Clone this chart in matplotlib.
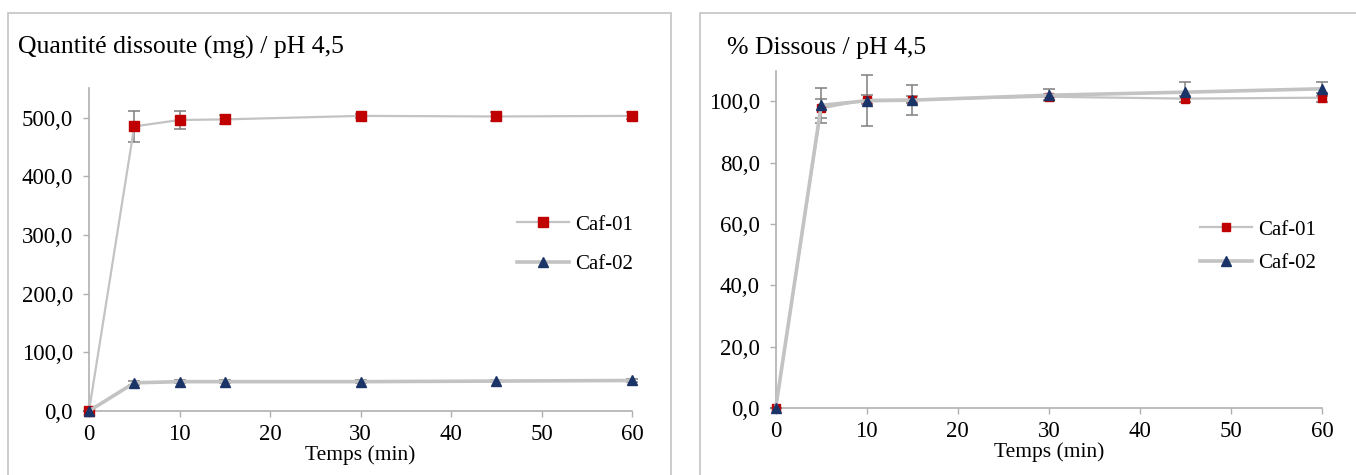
import matplotlib
matplotlib.use("Agg")
import matplotlib.pyplot as plt
from matplotlib.ticker import FuncFormatter, MultipleLocator
from matplotlib.patches import Rectangle

plt.rcParams['font.family'] = ['Liberation Serif', 'DejaVu Serif']

# ---- data ----
time_min = [0, 5, 10, 15, 30, 45, 60]

qty_caf01 = [0, 485, 496, 497, 503, 502, 503]
qty_caf01_err = [0, 26, 15, 7, 4, 8, 6]
qty_caf02 = [0, 48, 50, 50, 50, 51, 52]
qty_caf02_err = [0, 3, 3, 2, 2, 2, 2]

pct_caf01 = [0, 97.7, 100.5, 100.6, 101.5, 100.9, 101.2]
pct_caf01_err = [0, 3.2, 1.5, 1.2, 1.0, 1.0, 1.4]
pct_caf02 = [0, 98.7, 100.2, 100.4, 102.0, 103.0, 104.1]
pct_caf02_err = [0, 5.7, 8.3, 5.0, 2.0, 3.2, 2.3]

series_names = ["Caf-01", "Caf-02"]
x_ticks = [0, 10, 20, 30, 40, 50, 60]

title_left = "Quantité dissoute (mg) / pH 4,5"
title_right = "% Dissous / pH 4,5"
xlabel = "Temps (min)"

RED = "#C00000"
NAVY = "#1B3468"
LINE = "#C3C3C3"
ERR = "#7F7F7F"
SPINE = "#B0B0B0"

W, H = 1356, 475
fig = plt.figure(figsize=(W / 100, H / 100), dpi=100)

# panel frames
fig.patches.append(Rectangle((8 / W, -0.1), (671 - 8) / W, 1.1 - 12.7 / H,
                             transform=fig.transFigure, fill=False,
                             edgecolor="#C8C8C8", lw=1.3))
fig.patches.append(Rectangle((700 / W, -0.1), 0.5, 1.1 - 13.3 / H,
                             transform=fig.transFigure, fill=False,
                             edgecolor="#C8C8C8", lw=1.3))


def fmt_comma(v, pos):
    return f"{v:.1f}".replace(".", ",")


def style_axes(ax, ymax, ystep):
    ax.set_xlim(0, 60)
    ax.set_ylim(0, ymax)
    ax.set_xticks(x_ticks)
    ax.yaxis.set_major_locator(MultipleLocator(ystep))
    ax.yaxis.set_major_formatter(FuncFormatter(fmt_comma))
    for s in ["top", "right"]:
        ax.spines[s].set_visible(False)
    for s in ["left", "bottom"]:
        ax.spines[s].set_color(SPINE)
        ax.spines[s].set_linewidth(1.2)
    ax.tick_params(axis="both", direction="out", length=4.5, width=1.0,
                   color=SPINE, labelsize=16.5, labelcolor="black")
    ax.tick_params(axis="y", pad=7)
    ax.tick_params(axis="x", pad=5)
    ax.set_xlabel(xlabel, fontsize=15.5, labelpad=0)


def draw(ax, y1, e1, y2, e2, ms_sq, ms_tri):
    ax.errorbar(time_min, y1, yerr=e1, fmt="none", ecolor=ERR, elinewidth=1.1,
                capsize=4.2, capthick=1.1, zorder=3, clip_on=False)
    ax.errorbar(time_min, y2, yerr=e2, fmt="none", ecolor=ERR, elinewidth=1.1,
                capsize=4.2, capthick=1.1, zorder=3, clip_on=False)
    l1, = ax.plot(time_min, y1, color=LINE, lw=1.6, marker="s", ms=ms_sq,
                  mfc=RED, mec=RED, label=series_names[0], zorder=4, clip_on=False)
    l2, = ax.plot(time_min, y2, color=LINE, lw=2.6, marker="^", ms=ms_tri,
                  mfc=NAVY, mec=NAVY, label=series_names[1], zorder=5, clip_on=False)
    return l1, l2


# left panel
axL = fig.add_axes([89 / W, 1 - 411 / H, (632 - 89) / W, (411 - 88.3) / H])
l1, l2 = draw(axL, qty_caf01, qty_caf01_err, qty_caf02, qty_caf02_err, 6.5, 7.5)
style_axes(axL, 550, 100)
axL.legend(handles=[l1, l2], loc="center left",
           bbox_to_anchor=(517 / W, 1 - 244.5 / H), bbox_transform=fig.transFigure,
           frameon=False, fontsize=15, handlelength=2.5, handletextpad=0.3,
           labelspacing=0.95, borderpad=0, borderaxespad=0)
fig.text(18 / W, 1 - 54 / H, title_left, fontsize=18.5, ha="left", va="baseline")

# right panel
axR = fig.add_axes([775.7 / W, 1 - 408 / H, (1322 - 775.7) / W, (408 - 70.7) / H])
r1, r2 = draw(axR, pct_caf01, pct_caf01_err, pct_caf02, pct_caf02_err, 6.2, 7.5)
style_axes(axR, 110, 20)
axR.legend(handles=[r1, r2], loc="center left",
           bbox_to_anchor=(1200 / W, 1 - 246.7 / H), bbox_transform=fig.transFigure,
           frameon=False, fontsize=15, handlelength=2.5, handletextpad=0.3,
           labelspacing=0.68, borderpad=0, borderaxespad=0)
fig.text(727 / W, 1 - 54 / H, title_right, fontsize=18.5, ha="left", va="baseline")

fig.savefig("out.png", dpi=100)
